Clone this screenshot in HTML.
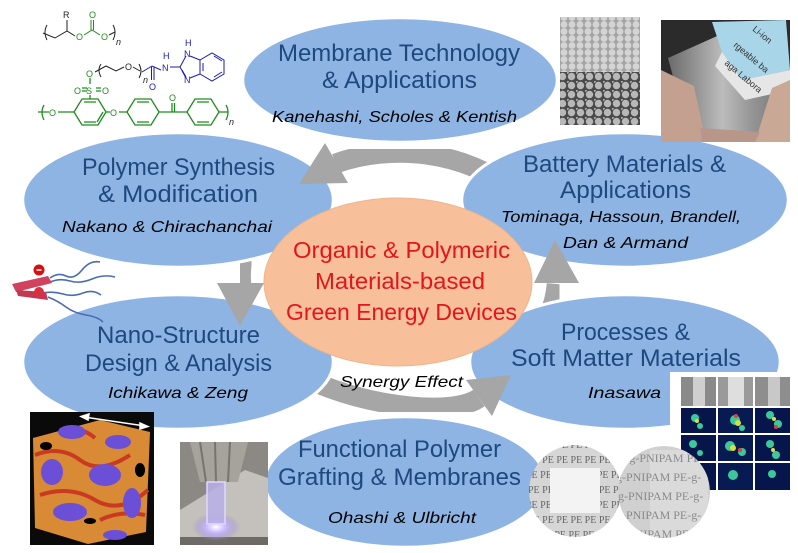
<!DOCTYPE html>
<html><head><meta charset="utf-8"><style>
html,body{margin:0;padding:0;background:#fff;}
svg{display:block;}
.h{font-family:"Liberation Sans",sans-serif;font-size:24px;fill:#1f497d;}
.n{font-family:"Liberation Sans",sans-serif;font-size:16px;font-style:italic;fill:#000;}
.c{font-family:"Liberation Sans",sans-serif;font-size:23.5px;fill:#e3151b;}
.ch{font-family:"Liberation Sans",sans-serif;font-size:9px;}
.pe{font-family:"Liberation Serif",serif;font-size:10px;fill:#666;}
.pn{font-family:"Liberation Serif",serif;font-size:12px;fill:#8a8a8a;}
</style></head><body>
<svg width="798" height="553" viewBox="0 0 798 553" xmlns="http://www.w3.org/2000/svg">
<defs>
<mask id="mTop"><rect width="798" height="553" fill="#fff"/><ellipse cx="625" cy="200" rx="165" ry="69" fill="#000"/></mask>
<mask id="mLeft"><rect width="798" height="553" fill="#fff"/><ellipse cx="178" cy="200" rx="157" ry="69" fill="#000"/></mask>
<mask id="mRight"><rect width="798" height="553" fill="#fff"/><ellipse cx="625" cy="362" rx="157" ry="69" fill="#000"/></mask>
<mask id="mBot"><rect width="798" height="553" fill="#fff"/><ellipse cx="178" cy="362" rx="157" ry="69" fill="#000"/></mask>
<pattern id="sp1" width="8" height="7" patternUnits="userSpaceOnUse"><rect width="8" height="7" fill="#a4a4a4"/><circle cx="4" cy="3.5" r="3.4" fill="#d4d4d4"/></pattern>
<pattern id="sp2" width="9" height="9" patternUnits="userSpaceOnUse"><rect width="9" height="9" fill="#4a4a4a"/><circle cx="4.5" cy="4.5" r="3.7" fill="#b8b8b8"/><circle cx="0" cy="0" r="2" fill="#a8a8a8"/></pattern>
<linearGradient id="metal" x1="0" y1="0" x2="1" y2="0"><stop offset="0" stop-color="#6a6a6a"/><stop offset="0.45" stop-color="#bcbcbc"/><stop offset="0.7" stop-color="#949494"/><stop offset="1" stop-color="#727272"/></linearGradient>
<radialGradient id="glow"><stop offset="0" stop-color="#ffffff"/><stop offset="0.4" stop-color="#c9b8ff"/><stop offset="1" stop-color="#9080d0" stop-opacity="0"/></radialGradient>
<clipPath id="c1"><circle cx="575" cy="491" r="46"/></clipPath>
<clipPath id="c2"><circle cx="664" cy="492" r="46"/></clipPath>
</defs>
<rect width="798" height="553" fill="#fff"/>

<!-- blue ellipses -->
<g fill="#8eb4e3" stroke="#fff" stroke-width="2.5">
<ellipse cx="400" cy="80" rx="157" ry="62"/>
<ellipse cx="178" cy="200" rx="155" ry="67"/>
<ellipse cx="625" cy="200" rx="163" ry="67"/>
<ellipse cx="178" cy="362" rx="155" ry="67"/>
<ellipse cx="625" cy="362" rx="155" ry="67"/>
<ellipse cx="405" cy="482" rx="140" ry="65"/>
</g>

<!-- gray cycle arrows -->
<g fill="none" stroke="#a6a6a6" stroke-width="20">
<path mask="url(#mTop)" d="M510.7,188.3 A158,124 0 0 0 335.5,163.5"/>
<path mask="url(#mLeft)" d="M250.5,233.6 A158,124 0 0 0 241.2,284"/>
<path mask="url(#mRight)" d="M528.4,347.1 A158,124 0 0 0 556.8,284"/>
<path mask="url(#mBot)" d="M285,365 C330,400 446,421 479,398"/>
</g>
<g fill="#a6a6a6">
<polygon points="325,143 348,183 299,184"/>
<polygon points="217,283 264,283 240,326"/>
<polygon points="534,283 579,283 555,240"/>
<polygon points="466,380 492,416 511,375"/>
</g>

<!-- center ellipse -->
<ellipse cx="398" cy="282" rx="134" ry="84" fill="#f8c09a" stroke="#f0b487" stroke-width="1"/>

<!-- texts -->
<text class="h" x="278" y="61" textLength="242" lengthAdjust="spacingAndGlyphs">Membrane Technology</text>
<text class="h" x="322" y="88" textLength="155" lengthAdjust="spacingAndGlyphs">&amp; Applications</text>
<text class="n" x="272" y="122" textLength="245" lengthAdjust="spacingAndGlyphs">Kanehashi, Scholes &amp; Kentish</text>

<text class="h" x="82" y="175" textLength="193" lengthAdjust="spacingAndGlyphs">Polymer Synthesis</text>
<text class="h" x="98" y="202" textLength="160" lengthAdjust="spacingAndGlyphs">&amp; Modification</text>
<text class="n" x="62" y="232" textLength="210" lengthAdjust="spacingAndGlyphs">Nakano &amp; Chirachanchai</text>

<text class="h" x="523" y="172" textLength="203" lengthAdjust="spacingAndGlyphs">Battery Materials &amp;</text>
<text class="h" x="560" y="198" textLength="131" lengthAdjust="spacingAndGlyphs">Applications</text>
<text class="n" x="501" y="222" textLength="240" lengthAdjust="spacingAndGlyphs">Tominaga, Hassoun, Brandell,</text>
<text class="n" x="563" y="248" textLength="125" lengthAdjust="spacingAndGlyphs">Dan &amp; Armand</text>

<text class="h" x="97" y="343" textLength="163" lengthAdjust="spacingAndGlyphs">Nano-Structure</text>
<text class="h" x="85" y="371" textLength="187" lengthAdjust="spacingAndGlyphs">Design &amp; Analysis</text>
<text class="n" x="108" y="398" textLength="140" lengthAdjust="spacingAndGlyphs">Ichikawa &amp; Zeng</text>

<text class="h" x="561" y="340" textLength="129" lengthAdjust="spacingAndGlyphs">Processes &amp;</text>
<text class="h" x="511" y="366" textLength="230" lengthAdjust="spacingAndGlyphs">Soft Matter Materials</text>
<text class="n" x="588" y="398" textLength="73" lengthAdjust="spacingAndGlyphs">Inasawa</text>

<text class="h" x="298" y="457" textLength="203" lengthAdjust="spacingAndGlyphs">Functional Polymer</text>
<text class="h" x="278" y="485" textLength="243" lengthAdjust="spacingAndGlyphs">Grafting &amp; Membranes</text>
<text class="n" x="328" y="523" textLength="148" lengthAdjust="spacingAndGlyphs">Ohashi &amp; Ulbricht</text>

<text class="c" x="293" y="258" textLength="217" lengthAdjust="spacingAndGlyphs">Organic &amp; Polymeric</text>
<text class="c" x="315" y="289" textLength="170" lengthAdjust="spacingAndGlyphs">Materials-based</text>
<text class="c" x="286" y="320" textLength="231" lengthAdjust="spacingAndGlyphs">Green Energy Devices</text>

<text class="n" x="340" y="387" font-size="16.5" textLength="123" lengthAdjust="spacingAndGlyphs">Synergy Effect</text>

<!-- SEM image -->
<rect x="560" y="17" width="80" height="55" fill="url(#sp1)"/>
<rect x="560" y="72" width="80" height="53" fill="url(#sp2)"/>

<!-- battery photo -->
<rect x="661" y="20" width="129" height="122" fill="#2b2b2b"/>
<polygon points="668,58 735,28 789,55 784,132 735,142 688,132" fill="url(#metal)"/>
<polygon points="712,22 786,20 790,70 742,80 722,52" fill="#a8d5e8"/>
<polygon points="722,52 742,80 790,70 790,90 745,100 715,66" fill="#e6e6e6"/>
<text class="ch" fill="#333" transform="translate(752,30) rotate(40)">Li-ion</text>
<text class="ch" fill="#333" transform="translate(733,46) rotate(40)">rgeable ba</text>
<text class="ch" fill="#333" transform="translate(724,64) rotate(40)">aga Labora</text>
<polygon points="661,70 694,86 706,142 661,142" fill="#c3a090"/>
<polygon points="772,88 790,80 790,142 755,142" fill="#c9a896"/>
<polygon points="700,128 760,132 755,142 702,142" fill="#b8968a"/>

<!-- heatmap -->
<rect x="670" y="372" width="120" height="118" fill="#fff"/>
<g>
<rect x="681" y="377" width="35" height="29" fill="#8a8a8a"/><rect x="693" y="377" width="12" height="29" fill="#cfcfcf"/>
<rect x="718" y="377" width="35" height="29" fill="#9a9a9a"/><rect x="728" y="377" width="16" height="29" fill="#dedede"/>
<rect x="755" y="377" width="35" height="29" fill="#8e8e8e"/><rect x="768" y="377" width="12" height="29" fill="#c8c8c8"/>
<rect x="681" y="408" width="35" height="82" fill="#06154a"/>
<rect x="718" y="408" width="35" height="82" fill="#071a52"/>
<rect x="755" y="408" width="35" height="82" fill="#06164c"/>
<rect x="681" y="433" width="109" height="2" fill="#fff"/>
<rect x="681" y="461" width="109" height="2" fill="#fff"/>
<rect x="716" y="377" width="2" height="113" fill="#fff"/>
<rect x="753" y="377" width="2" height="113" fill="#fff"/>
<g fill="#3cc89a"><circle cx="695" cy="418" r="4"/><circle cx="700" cy="426" r="3"/><circle cx="735" cy="420" r="5"/><circle cx="742" cy="428" r="3"/><circle cx="770" cy="415" r="4"/><circle cx="778" cy="424" r="4"/><circle cx="693" cy="444" r="4"/><circle cx="700" cy="453" r="3"/><circle cx="730" cy="446" r="5"/><circle cx="742" cy="452" r="4"/><circle cx="770" cy="444" r="4"/><circle cx="776" cy="455" r="4"/><circle cx="697" cy="472" r="4"/><circle cx="733" cy="475" r="5"/><circle cx="772" cy="474" r="4"/></g>
<g fill="#d8e040"><circle cx="697" cy="421" r="2"/><circle cx="738" cy="423" r="3"/><circle cx="774" cy="419" r="2"/><circle cx="733" cy="448" r="3"/><circle cx="773" cy="450" r="2"/></g>
<g fill="#e04038"><circle cx="736" cy="416" r="2"/><circle cx="776" cy="427" r="2"/><circle cx="740" cy="450" r="2"/></g>
</g>

<!-- PE membranes -->
<g clip-path="url(#c1)">
<circle cx="575" cy="491" r="46" fill="#d6d6d6"/>
<text class="pe" x="528" y="448">PE PE PE PE PE PE PE</text>
<text class="pe" x="528" y="463">PE PE PE PE PE PE PE</text>
<text class="pe" x="526" y="478">PE PE PE PE PE PE PE</text>
<text class="pe" x="528" y="493">PE PE PE PE PE PE PE</text>
<text class="pe" x="526" y="508">PE PE PE PE PE PE PE</text>
<text class="pe" x="528" y="523">PE PE PE PE PE PE PE</text>
<text class="pe" x="526" y="538">PE PE PE PE PE PE PE</text>
<rect x="550" y="468" width="50" height="45" fill="#f3f3f3"/>
</g>
<g clip-path="url(#c2)">
<circle cx="664" cy="492" r="46" fill="#d0d0d0"/>
<rect x="650" y="450" width="58" height="90" fill="#dadada"/>
<text class="pn" x="618" y="462">E-g-PNIPAM PE-g-</text>
<text class="pn" x="612" y="481">-g-PNIPAM PE-g-</text>
<text class="pn" x="614" y="500">-g-PNIPAM PE-g-</text>
<text class="pn" x="612" y="519">-g-PNIPAM PE-g-</text>
<text class="pn" x="614" y="538">-g-PNIPAM PE-g-</text>
</g>

<!-- cube image -->
<rect x="30" y="412" width="124" height="133" fill="#0a0a0a"/>
<polygon points="33,438 100,420 150,432 146,532 88,544 35,528" fill="#d98a34"/>
<g stroke="#c83a22" stroke-width="4" fill="none">
<path d="M35,455 Q60,445 80,460 T130,455"/>
<path d="M40,495 Q70,485 95,500 T148,490"/>
<path d="M60,430 Q80,425 95,438"/>
<path d="M100,520 Q120,510 145,515"/>
</g>
<g fill="#6b4fd6">
<ellipse cx="72" cy="432" rx="14" ry="7"/>
<ellipse cx="118" cy="442" rx="13" ry="7"/>
<ellipse cx="52" cy="472" rx="11" ry="13"/>
<ellipse cx="105" cy="475" rx="16" ry="11"/>
<ellipse cx="70" cy="512" rx="17" ry="9"/>
<ellipse cx="132" cy="503" rx="9" ry="15"/>
<ellipse cx="115" cy="535" rx="12" ry="5"/>
</g>
<g fill="#000"><ellipse cx="46" cy="446" rx="6" ry="4"/><ellipse cx="140" cy="470" rx="5" ry="7"/><ellipse cx="90" cy="521" rx="6" ry="3"/></g>
<g stroke="#fff" stroke-width="1.5" fill="#fff">
<line x1="84" y1="417" x2="145" y2="426"/>
<polygon points="81,416.5 89,414 88,420"/>
<polygon points="148,426.5 140,423 140,429"/>
</g>

<!-- plasma image -->
<rect x="180" y="442" width="88" height="103" fill="#8c8883"/>
<polygon points="180,510 245,470 268,478 268,545 180,545" fill="#c4c0bb"/>
<rect x="180" y="537" width="88" height="8" fill="#6e6a66"/>
<polygon points="190,442 248,442 238,482 200,482" fill="#a6a29c"/>
<g stroke="#77736e" stroke-width="2"><line x1="200" y1="442" x2="206" y2="482"/><line x1="215" y1="442" x2="216" y2="482"/><line x1="230" y1="442" x2="228" y2="482"/></g>
<ellipse cx="216" cy="527" rx="24" ry="14" fill="url(#glow)"/>
<rect x="207" y="482" width="18" height="42" fill="#b8b0e8" fill-opacity="0.85" stroke="#e0d8ff" stroke-width="1.5"/>

<!-- surfactant -->
<g stroke="#4a6cb0" stroke-width="1.6" fill="none">
<path d="M50,278 q8,-6 16,-2 t16,-6 t18,-8"/>
<path d="M50,282 q10,-4 20,-1 t22,-2 t23,-2"/>
<path d="M43,293 q10,-2 20,1 t20,-1 t18,2"/>
<path d="M48,297 q10,4 18,10 t20,8 t17,7"/>
</g>
<polygon points="12,284 48,276 52,283 16,292" fill="#d0425e"/>
<polygon points="16,290 46,292 48,300 18,296" fill="#c23854"/>
<circle cx="39" cy="270" r="5.5" fill="#d41010"/>
<line x1="36.5" y1="270" x2="41.5" y2="270" stroke="#fff" stroke-width="1.5"/>
<circle cx="39" cy="292" r="5" fill="#d83040"/>

<!-- chemical structures -->
<g stroke="#222" stroke-width="1" fill="none">
<path d="M47,25 Q43,32 47,40"/>
<path d="M43,33 L55,38 L67,31 L75,36"/>
<path d="M67,31 L67,20"/>
<path d="M109,35 L115,32"/>
<path d="M113,25 Q117,32 113,40"/>
<path d="M101,64 Q97,70 101,77"/>
<path d="M95,72 L106,66 L116,71 L124,67"/>
<path d="M133,67 L140,71"/>
<path d="M139,64 Q143,71 139,78"/>
</g>
<text class="ch" x="63" y="18" fill="#222">R</text>
<text class="ch" x="76" y="40" fill="#1e8c1e">O</text>
<text class="ch" x="89" y="18" fill="#1e8c1e">O</text>
<text class="ch" x="101" y="40" fill="#1e8c1e">O</text>
<text class="ch" x="116" y="45" font-style="italic" font-size="8" fill="#222">n</text>
<g stroke="#1e8c1e" stroke-width="1" fill="none">
<path d="M84,35 L92,30 L100,35"/>
<path d="M91,30 L91,20 M93.5,30 L93.5,20"/>
</g>
<text class="ch" x="125" y="70" fill="#222">O</text>
<text class="ch" x="143" y="83" font-style="italic" font-size="8" fill="#222">n</text>
<text class="ch" x="86" y="77" fill="#1e8c1e">O</text>
<g stroke="#1a1ab4" stroke-width="1" fill="none">
<path d="M142,72 L152,66 L161,70"/>
<path d="M151.5,67 L151.5,80 M154,67 L154,80"/>
<path d="M170,67 L180,67 L186,56 M190,56 L200,60 L200,74 L190,78 M186,78 L180,67"/>
<path d="M182,70 L186,77"/>
<path d="M200,60 L212,53 L224,60 L224,74 L212,81 L200,74"/>
<path d="M214,56 L222,61 M222,72 L214,77 M203,63 L203,71"/>
</g>
<text class="ch" x="149" y="90" fill="#1a1ab4">O</text>
<text class="ch" x="162" y="71" fill="#1a1ab4">N</text>
<text class="ch" x="163" y="59" fill="#1a1ab4">H</text>
<text class="ch" x="184" y="57" fill="#1a1ab4">N</text>
<text class="ch" x="185" y="46" fill="#1a1ab4">H</text>
<text class="ch" x="184" y="83" fill="#1a1ab4">N</text>
<g stroke="#1e8c1e" stroke-width="1.3" fill="none">
<path d="M90,78 L90,84"/>
<path d="M82,88 L87,88 M82,91 L87,91 M96,88 L101,88 M96,91 L101,91"/>
<path d="M90,95 L90,99"/>
<path d="M38,112 L49,112 M58,112 L74,112"/>
<path d="M44,105 Q40,112 44,120"/>
<path d="M74,112 L82,99 L98,99 L106,112 L98,125 L82,125 Z"/>
<path d="M84,102 L96,102 M84,122 L96,122 M103,112 L97,122"/>
<path d="M106,112 L110,112 M119,112 L127,112"/>
<path d="M127,112 L135,99 L151,99 L159,112 L151,125 L135,125 Z"/>
<path d="M137,102 L149,102 M137,122 L149,122"/>
<path d="M159,112 L187,112 M172,112 L172,103 M174.5,112 L174.5,103"/>
<path d="M187,112 L195,99 L211,99 L219,112 L211,125 L195,125 Z"/>
<path d="M197,102 L209,102 M197,122 L209,122"/>
<path d="M219,112 L228,112"/>
<path d="M226,105 Q230,112 226,120"/>
</g>
<text class="ch" x="86" y="94" fill="#1e8c1e" font-size="10">S</text>
<text class="ch" x="74" y="94" fill="#1e8c1e">O</text>
<text class="ch" x="102" y="94" fill="#1e8c1e">O</text>
<text class="ch" x="49" y="116" fill="#1e8c1e">O</text>
<text class="ch" x="110" y="116" fill="#1e8c1e">O</text>
<text class="ch" x="169" y="101" fill="#1e8c1e">O</text>
<text class="ch" x="229" y="125" font-style="italic" font-size="8" fill="#222">n</text>
</svg>
</body></html>
